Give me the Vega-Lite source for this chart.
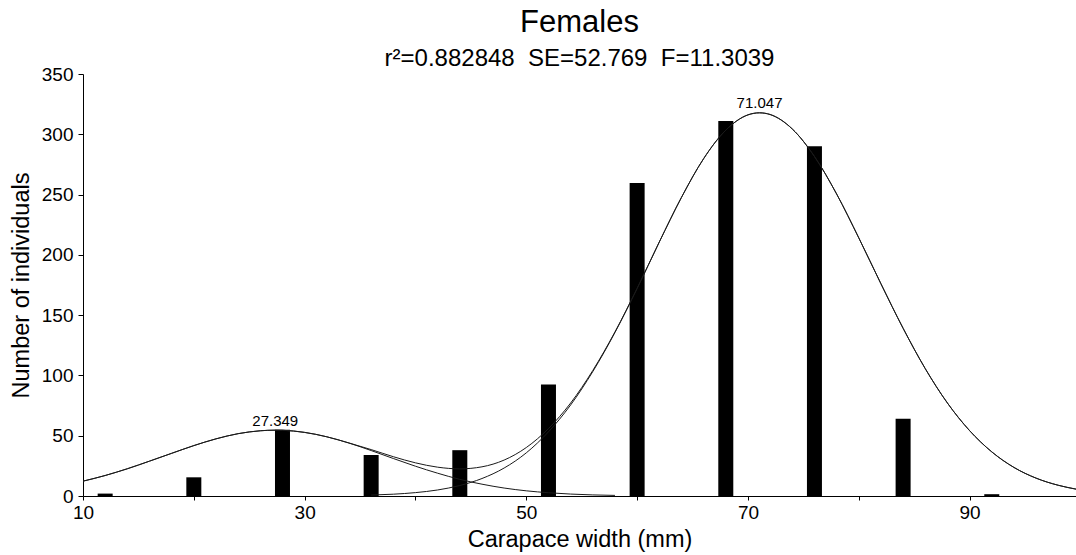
{
  "$schema": "https://vega.github.io/schema/vega-lite/v6.json",
  "width": 993,
  "height": 422,
  "autosize": {"type": "none"},
  "padding": {"left": 83, "top": 74, "right": 0, "bottom": 59},
  "background": "white",
  "config": {"view": {"stroke": null}, "font": "Liberation Sans"},
  "title": {
    "text": "Females",
    "subtitle": "r²=0.882848\u00a0\u00a0SE=52.769\u00a0\u00a0F=11.3039",
    "fontSize": 31,
    "subtitleFontSize": 24,
    "fontWeight": "normal",
    "color": "#000",
    "subtitleColor": "#000",
    "font": "Liberation Sans",
    "subtitleFont": "Liberation Sans",
    "anchor": "middle",
    "dx": 0,
    "offset": -7,
    "subtitlePadding": 8
  },
  "datasets": {
    "bars": [
      {"w": 12, "n": 2},
      {"w": 20, "n": 15.5},
      {"w": 28, "n": 55},
      {"w": 36, "n": 34},
      {"w": 44, "n": 38},
      {"w": 52, "n": 92.5},
      {"w": 60, "n": 259.5},
      {"w": 68, "n": 311},
      {"w": 76, "n": 290},
      {"w": 84, "n": 64},
      {"w": 92, "n": 1.5}
    ],
    "curves": [
      {"s": "g1", "w": 10, "n": 12.3},
      {"s": "g1", "w": 12, "n": 17.0},
      {"s": "g1", "w": 14, "n": 22.6},
      {"s": "g1", "w": 16, "n": 28.9},
      {"s": "g1", "w": 18, "n": 35.4},
      {"s": "g1", "w": 20, "n": 41.8},
      {"s": "g1", "w": 22, "n": 47.4},
      {"s": "g1", "w": 24, "n": 51.7},
      {"s": "g1", "w": 26, "n": 54.1},
      {"s": "g1", "w": 27.349, "n": 54.6},
      {"s": "g1", "w": 28, "n": 54.5},
      {"s": "g1", "w": 30, "n": 52.7},
      {"s": "g1", "w": 32, "n": 49.1},
      {"s": "g1", "w": 34, "n": 43.9},
      {"s": "g1", "w": 36, "n": 37.7},
      {"s": "g1", "w": 38, "n": 31.1},
      {"s": "g1", "w": 40, "n": 24.7},
      {"s": "g1", "w": 42, "n": 18.9},
      {"s": "g1", "w": 44, "n": 13.8},
      {"s": "g1", "w": 46, "n": 9.8},
      {"s": "g1", "w": 48, "n": 6.6},
      {"s": "g1", "w": 50, "n": 4.3},
      {"s": "g1", "w": 52, "n": 2.7},
      {"s": "g1", "w": 54, "n": 1.6},
      {"s": "g1", "w": 56, "n": 0.9},
      {"s": "g1", "w": 58, "n": 0.5},
      {"s": "g2", "w": 36, "n": 0.8},
      {"s": "g2", "w": 38, "n": 1.5},
      {"s": "g2", "w": 40, "n": 2.8},
      {"s": "g2", "w": 42, "n": 5.0},
      {"s": "g2", "w": 44, "n": 8.7},
      {"s": "g2", "w": 46, "n": 14.5},
      {"s": "g2", "w": 48, "n": 23.2},
      {"s": "g2", "w": 50, "n": 35.8},
      {"s": "g2", "w": 52, "n": 53.2},
      {"s": "g2", "w": 54, "n": 75.5},
      {"s": "g2", "w": 56, "n": 103.2},
      {"s": "g2", "w": 58, "n": 135.6},
      {"s": "g2", "w": 60, "n": 172.0},
      {"s": "g2", "w": 62, "n": 210.6},
      {"s": "g2", "w": 64, "n": 247.6},
      {"s": "g2", "w": 66, "n": 279.8},
      {"s": "g2", "w": 68, "n": 303.4},
      {"s": "g2", "w": 70, "n": 316.1},
      {"s": "g2", "w": 71.047, "n": 317.8},
      {"s": "g2", "w": 72, "n": 316.4},
      {"s": "g2", "w": 74, "n": 304.4},
      {"s": "g2", "w": 76, "n": 281.6},
      {"s": "g2", "w": 78, "n": 250.5},
      {"s": "g2", "w": 80, "n": 214.1},
      {"s": "g2", "w": 82, "n": 176.0},
      {"s": "g2", "w": 84, "n": 139.1},
      {"s": "g2", "w": 86, "n": 105.6},
      {"s": "g2", "w": 88, "n": 77.1},
      {"s": "g2", "w": 90, "n": 54.2},
      {"s": "g2", "w": 92, "n": 36.6},
      {"s": "g2", "w": 94, "n": 23.7},
      {"s": "g2", "w": 96, "n": 14.8},
      {"s": "g2", "w": 98, "n": 8.9},
      {"s": "g2", "w": 99.6, "n": 5.7},
      {"s": "sum", "w": 10, "n": 12.3},
      {"s": "sum", "w": 12, "n": 17.0},
      {"s": "sum", "w": 14, "n": 22.6},
      {"s": "sum", "w": 16, "n": 28.9},
      {"s": "sum", "w": 18, "n": 35.4},
      {"s": "sum", "w": 20, "n": 41.8},
      {"s": "sum", "w": 22, "n": 47.4},
      {"s": "sum", "w": 24, "n": 51.7},
      {"s": "sum", "w": 26, "n": 54.1},
      {"s": "sum", "w": 27.349, "n": 54.6},
      {"s": "sum", "w": 28, "n": 54.5},
      {"s": "sum", "w": 30, "n": 52.8},
      {"s": "sum", "w": 32, "n": 49.1},
      {"s": "sum", "w": 34, "n": 44.0},
      {"s": "sum", "w": 36, "n": 38.5},
      {"s": "sum", "w": 38, "n": 32.6},
      {"s": "sum", "w": 40, "n": 27.5},
      {"s": "sum", "w": 42, "n": 23.9},
      {"s": "sum", "w": 44, "n": 22.5},
      {"s": "sum", "w": 46, "n": 24.2},
      {"s": "sum", "w": 48, "n": 29.8},
      {"s": "sum", "w": 50, "n": 40.2},
      {"s": "sum", "w": 52, "n": 55.9},
      {"s": "sum", "w": 54, "n": 77.1},
      {"s": "sum", "w": 56, "n": 104.1},
      {"s": "sum", "w": 58, "n": 136.1},
      {"s": "sum", "w": 60, "n": 172.3},
      {"s": "sum", "w": 62, "n": 210.7},
      {"s": "sum", "w": 64, "n": 247.7},
      {"s": "sum", "w": 66, "n": 279.8},
      {"s": "sum", "w": 68, "n": 303.4},
      {"s": "sum", "w": 70, "n": 316.1},
      {"s": "sum", "w": 71.047, "n": 317.8},
      {"s": "sum", "w": 72, "n": 316.4},
      {"s": "sum", "w": 74, "n": 304.4},
      {"s": "sum", "w": 76, "n": 281.6},
      {"s": "sum", "w": 78, "n": 250.5},
      {"s": "sum", "w": 80, "n": 214.1},
      {"s": "sum", "w": 82, "n": 176.0},
      {"s": "sum", "w": 84, "n": 139.1},
      {"s": "sum", "w": 86, "n": 105.6},
      {"s": "sum", "w": 88, "n": 77.1},
      {"s": "sum", "w": 90, "n": 54.2},
      {"s": "sum", "w": 92, "n": 36.6},
      {"s": "sum", "w": 94, "n": 23.7},
      {"s": "sum", "w": 96, "n": 14.8},
      {"s": "sum", "w": 98, "n": 8.9},
      {"s": "sum", "w": 99.6, "n": 5.7}
    ],
    "peaks": [
      {"w": 27.349, "n": 54.6, "label": "27.349"},
      {"w": 71.047, "n": 317.8, "label": "71.047"}
    ]
  },
  "encoding": {
    "x": {
      "field": "w",
      "type": "quantitative",
      "scale": {"domain": [10, 99.6], "nice": false, "zero": false, "padding": 0},
      "axis": {
        "title": "Carapace width (mm)",
        "values": [10, 20, 30, 40, 50, 60, 70, 80, 90],
        "labelExpr": "datum.value % 20 == 10 ? datum.label : ''",
        "grid": false,
        "domainColor": "#000",
        "tickColor": "#000",
        "tickSize": 4,
        "labelFontSize": 19,
        "titleFontSize": 23.5,
        "labelColor": "#000",
        "titleColor": "#000",
        "titleFontWeight": "normal",
        "labelPadding": 3,
        "titlePadding": 5,
        "labelFlush": false,
        "labelOverlap": false
      }
    },
    "y": {
      "field": "n",
      "type": "quantitative",
      "scale": {"domain": [0, 350], "nice": false},
      "axis": {
        "title": "Number of individuals",
        "values": [0, 50, 100, 150, 200, 250, 300, 350],
        "grid": false,
        "domainColor": "#000",
        "tickColor": "#000",
        "tickSize": 5,
        "labelFontSize": 19,
        "titleFontSize": 23.5,
        "labelColor": "#000",
        "titleColor": "#000",
        "titleFontWeight": "normal",
        "labelPadding": 5,
        "titlePadding": 8,
        "labelFlush": false,
        "labelOverlap": false
      }
    }
  },
  "layer": [
    {
      "data": {"name": "bars"},
      "mark": {"type": "bar", "width": 15, "color": "#000"}
    },
    {
      "data": {"name": "curves"},
      "mark": {"type": "line", "interpolate": "monotone", "color": "#1a1a1a", "strokeWidth": 1, "clip": true},
      "encoding": {"detail": {"field": "s"}}
    },
    {
      "data": {"name": "peaks"},
      "mark": {"type": "text", "baseline": "alphabetic", "dy": -4.5, "fontSize": 15, "color": "#000"},
      "encoding": {"text": {"field": "label"}}
    }
  ]
}
